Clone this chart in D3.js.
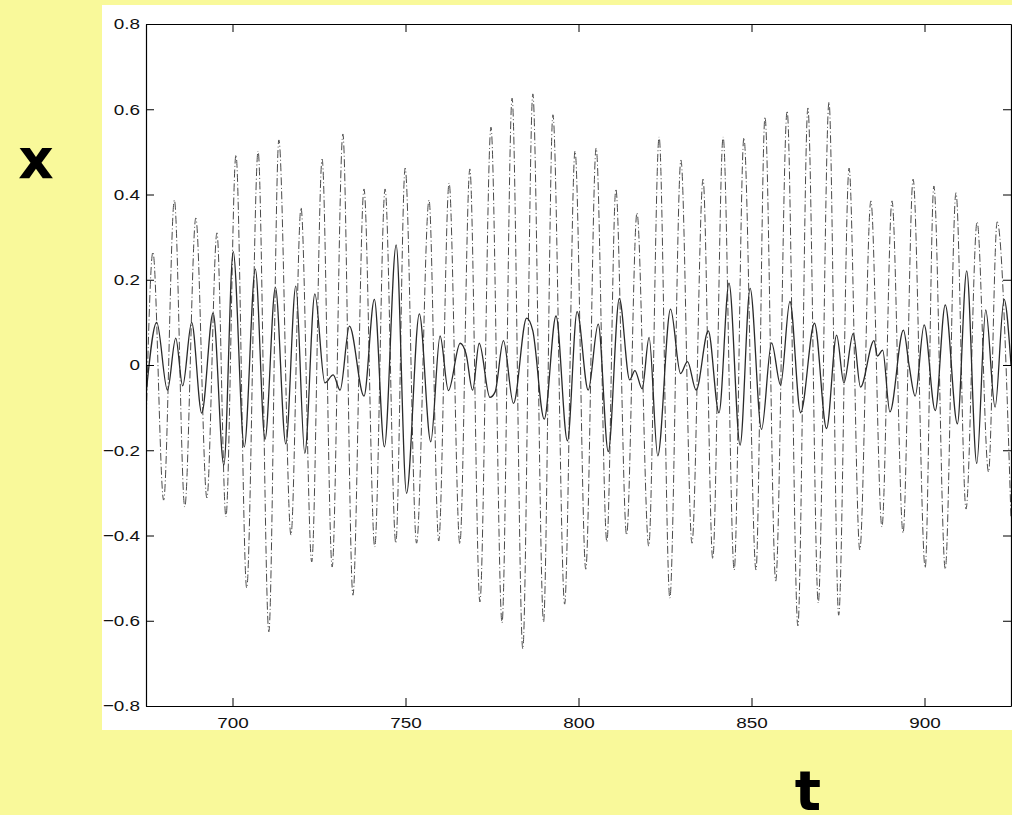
<!DOCTYPE html>
<html>
<head>
<meta charset="utf-8">
<script src="https://cdn.jsdelivr.net/npm/d3@7.9.0/dist/d3.min.js"></script>
<style>
  html, body { margin: 0; padding: 0; background: #f9f99a; }
  svg { display: block; }
  .axis-title { font-family: "DejaVu Sans", Verdana, sans-serif; font-weight: bold; font-size: 55px; fill: #000; }
</style>
</head>
<body>
<div id="chart"></div>
<script>
// time domain and tick marks
const tDomain = [675, 925];
const xDomain = [-0.8, 0.8];
const tTicks = [700, 750, 800, 850, 900];
const xTicks = [-0.8, -0.6, -0.4, -0.2, 0, 0.2, 0.4, 0.6, 0.8];

// dash-dot series: turning points [t, x]
const dashSeries = [
  [675.0, -0.15], [677.0, 0.265], [680.1, -0.317], [683.2, 0.387], [686.2, -0.333],
  [689.4, 0.345], [692.6, -0.312], [695.5, 0.31], [698.1, -0.356], [701.0, 0.493],
  [704.1, -0.523], [707.4, 0.502], [710.5, -0.626], [713.4, 0.528], [716.9, -0.399],
  [719.8, 0.369], [722.9, -0.462], [725.9, 0.483], [728.8, -0.474], [731.9, 0.542],
  [734.8, -0.54], [738.0, 0.413], [741.1, -0.427], [744.1, 0.413], [747.2, -0.418],
  [749.9, 0.462], [753.2, -0.418], [756.8, 0.387], [759.6, -0.413], [762.6, 0.427],
  [765.7, -0.42], [768.6, 0.46], [771.5, -0.556], [774.7, 0.558], [777.9, -0.605],
  [780.8, 0.626], [783.9, -0.666], [786.8, 0.636], [789.9, -0.603], [792.6, 0.587],
  [796.0, -0.561], [799.0, 0.502], [802.1, -0.479], [805.1, 0.509], [808.2, -0.415],
  [810.8, 0.413], [813.9, -0.399], [816.9, 0.357], [820.3, -0.425], [823.3, 0.535],
  [826.4, -0.547], [829.6, 0.481], [832.8, -0.418], [836.0, 0.436], [838.8, -0.455],
  [841.8, 0.535], [845.0, -0.481], [847.8, 0.533], [851.3, -0.481], [853.9, 0.582],
  [857.0, -0.507], [860.3, 0.596], [863.4, -0.612], [866.3, 0.603], [869.3, -0.558],
  [872.4, 0.617], [875.2, -0.587], [878.2, 0.462], [881.3, -0.434], [884.5, 0.385],
  [887.7, -0.38], [890.6, 0.385], [893.8, -0.394], [896.7, 0.436], [900.2, -0.476],
  [902.7, 0.42], [906.0, -0.479], [909.1, 0.404], [912.0, -0.338], [915.2, 0.336],
  [918.5, -0.251], [921.0, 0.336], [925.0, -0.36]
];

// solid series: turning points [t, x]
const solidSeries = [
  [675.0, -0.07], [678.1, 0.10], [681.2, -0.059], [683.6, 0.063], [685.6, -0.049],
  [688.2, 0.10], [691.1, -0.113], [694.4, 0.122], [697.5, -0.235], [700.2, 0.266],
  [703.4, -0.192], [706.6, 0.225], [709.4, -0.174], [712.4, 0.182], [715.4, -0.185],
  [718.3, 0.185], [720.9, -0.207], [723.8, 0.167], [726.7, -0.042], [729.1, -0.023],
  [731.1, -0.059], [733.8, 0.091], [738.0, -0.073], [741.0, 0.154], [743.9, -0.192],
  [747.3, 0.282], [750.3, -0.301], [754.0, 0.12], [757.3, -0.18], [760.0, 0.068],
  [762.4, -0.06], [765.8, 0.051], [767.5, 0.026], [769.4, -0.059], [771.3, 0.051],
  [774.4, -0.076], [775.9, -0.063], [778.3, 0.057], [781.2, -0.09], [785.0, 0.11],
  [786.8, 0.08], [790.1, -0.127], [793.5, 0.115], [796.8, -0.178], [799.6, 0.125],
  [802.8, -0.059], [805.7, 0.096], [808.6, -0.203], [811.8, 0.156], [814.8, -0.035],
  [816.3, -0.013], [818.4, -0.056], [820.4, 0.065], [822.9, -0.213], [826.6, 0.131],
  [829.5, -0.02], [831.5, 0.008], [834.0, -0.059], [837.5, 0.08], [840.6, -0.112],
  [843.5, 0.192], [846.7, -0.188], [849.6, 0.18], [852.9, -0.151], [855.8, 0.052],
  [858.4, -0.047], [861.1, 0.149], [864.2, -0.112], [868.2, 0.098], [871.7, -0.149],
  [874.6, 0.07], [876.7, -0.042], [879.4, 0.074], [881.5, -0.052], [885.4, 0.057],
  [886.4, 0.021], [887.9, 0.035], [890.0, -0.11], [893.9, 0.082], [895.6, -0.004],
  [897.3, -0.073], [899.9, 0.094], [903.1, -0.107], [906.0, 0.141], [909.5, -0.138],
  [912.2, 0.221], [915.1, -0.231], [917.7, 0.129], [920.4, -0.099], [923.0, 0.154],
  [925.0, 0.0]
];

const width = 1012;
const height = 815;

const area = { left: 146, right: 1011, top: 24, bottom: 706 };

const svg = d3.select('#chart')
  .append('svg')
  .attr('width', width)
  .attr('height', height);

// yellow page and white figure panel
svg.append('rect')
  .attr('width', width)
  .attr('height', height)
  .attr('fill', '#f9f99a');

svg.append('rect')
  .attr('x', 102)
  .attr('y', 5)
  .attr('width', width - 102)
  .attr('height', 725)
  .attr('fill', '#ffffff');

const tScale = d3.scaleLinear().domain(tDomain).range([area.left, area.right]);
const xScale = d3.scaleLinear().domain(xDomain).range([area.bottom, area.top]);

svg.append('clipPath')
  .attr('id', 'plot-clip')
  .append('rect')
  .attr('x', area.left)
  .attr('y', area.top)
  .attr('width', area.right - area.left)
  .attr('height', area.bottom - area.top);

const line = d3.line()
  .x((d) => tScale(d[0]))
  .y((d) => xScale(d[1]))
  .curve(d3.curveMonotoneX);

const lines = svg.append('g').attr('clip-path', 'url(#plot-clip)');

lines.append('path')
  .datum(dashSeries)
  .attr('d', line)
  .attr('fill', 'none')
  .attr('stroke', '#4a4a4a')
  .attr('stroke-width', 1)
  .attr('stroke-dasharray', '8,2.5,1,2.5');

lines.append('path')
  .datum(solidSeries)
  .attr('d', line)
  .attr('fill', 'none')
  .attr('stroke', '#2a2a2a')
  .attr('stroke-width', 1.3);

const fmt = (d) => (d === 0 ? '0' : d3.format('.1f')(d));

// axes: ticks point inward on all four sides
const axes = svg.append('g').attr('class', 'axes');

const bottomAxis = axes.append('g')
  .attr('transform', `translate(0, ${area.bottom})`)
  .call(d3.axisBottom(tScale).tickValues(tTicks).tickSizeInner(-8).tickSizeOuter(0).tickPadding(11));

axes.append('g')
  .attr('transform', `translate(0, ${area.top})`)
  .call(d3.axisTop(tScale).tickValues(tTicks).tickSizeInner(-8).tickSizeOuter(0).tickFormat(''));

const leftAxis = axes.append('g')
  .attr('transform', `translate(${area.left}, 0)`)
  .call(d3.axisLeft(xScale).tickValues(xTicks).tickSizeInner(-8).tickSizeOuter(0).tickPadding(6).tickFormat(fmt));

axes.append('g')
  .attr('transform', `translate(${area.right}, 0)`)
  .call(d3.axisRight(xScale).tickValues(xTicks).tickSizeInner(-8).tickSizeOuter(0).tickFormat(''));

axes.selectAll('.domain').attr('stroke', '#000').attr('stroke-width', 1.2);
axes.selectAll('.tick line').attr('stroke', '#000').attr('stroke-width', 1);
axes.selectAll('.tick text')
  .style('font-family', '"Liberation Sans", Arial, sans-serif')
  .style('font-size', '15.5px')
  .style('fill', '#111');

// the figure's labels are drawn a little wide: stretch them horizontally
bottomAxis.selectAll('.tick text')
  .attr('transform', 'scale(1.22, 1)');

leftAxis.selectAll('.tick text')
  .attr('x', 0)
  .attr('transform', 'translate(-6, 0) scale(1.22, 1)');

// axis titles
svg.append('text')
  .attr('class', 'axis-title')
  .attr('x', 36)
  .attr('y', 178)
  .attr('text-anchor', 'middle')
  .text('x');

svg.append('text')
  .attr('class', 'axis-title')
  .attr('x', 808)
  .attr('y', 810)
  .attr('text-anchor', 'middle')
  .text('t');
</script>
</body>
</html>
